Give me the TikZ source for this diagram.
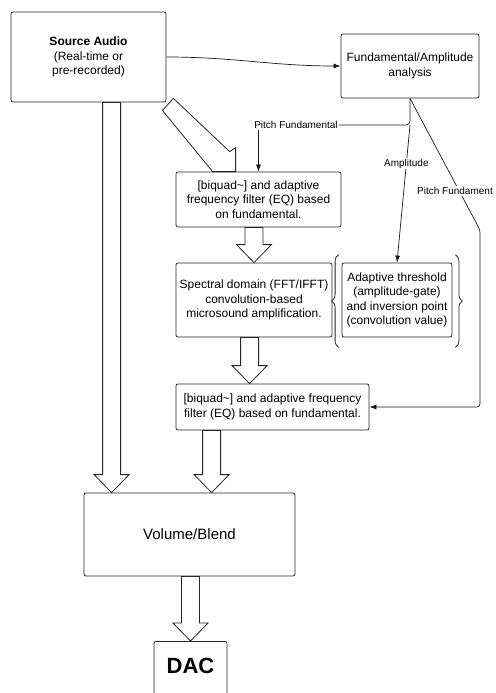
\documentclass[tikz,border=0pt]{standalone}
\usepackage{fontspec}
\setmainfont{Liberation Sans}
\usepackage{tikz}
\usetikzlibrary{arrows.meta,calc,decorations.pathreplacing}

\tikzset{
  box/.style={draw=black!85, line width=0.8pt, rounded corners=2pt, fill=white,
    align=center, inner sep=0pt, font=\fontsize{12}{14.5}\selectfont},
  fat/.style={draw=black!85, line width=0.8pt, fill=white},
  link/.style={draw=black!90, line width=0.7pt},
  linkarrow/.style={link, -{Latex[length=7pt,width=5pt]}},
  tag/.style={font=\fontsize{10}{12}\selectfont, fill=white, inner sep=1pt},
  brace/.style={draw=black!85, line width=0.8pt, decorate, decoration={brace,amplitude=7pt}},
}

% hollow block arrow pointing down: #1 = start of shaft, #2 = tip
\newcommand{\fatdown}[2]{%
  \draw[fat] let \p1=#1, \p2=#2 in
    (\x2-9pt,\y1) -- (\x2-9pt,\y2+18pt) -- (\x2-17.5pt,\y2+18pt) -- (\x2,\y2)
    -- (\x2+17.5pt,\y2+18pt) -- (\x2+9pt,\y2+18pt) -- (\x2+9pt,\y1) -- cycle;}

\begin{document}
\begin{tikzpicture}[x=1pt,y=-1pt]
  \useasboundingbox (0,0) rectangle (495,693);
  \clip (0,0) rectangle (495,693);

   \draw (88.5,57) node[box, minimum width=155pt, minimum height=90pt] (src) {\textbf{Source Audio}\\(Real-time or\\pre-recorded)};
   \draw (410,66) node[box, minimum width=138pt, minimum height=64pt] (fund) {Fundamental/Amplitude\\analysis};
  \draw (258.5,199.5) node[box, minimum width=165pt, minimum height=55pt] (bq1) {[biquad\textasciitilde] and adaptive\\frequency filter (EQ) based\\on fundamental.};
  \draw (254,300) node[box, minimum width=156pt, minimum height=74pt] (spec) {Spectral domain (FFT/IFFT)\\convolution-based\\microsound amplification.};
  \draw (397,300) node[box, minimum width=110pt, minimum height=74pt] (adapt) {Adaptive threshold\\(amplitude-gate)\\and inversion point\\(convolution value)};
      \draw (272.5,407) node[box, minimum width=193pt, minimum height=46pt] (bq2) {[biquad\textasciitilde] and adaptive frequency\\filter (EQ) based on fundamental.};
	\draw (189.5,534.5) node[box, minimum width=211pt, minimum height=83pt, font=\fontsize{15}{18}\selectfont] (vol) {Volume/Blend};
	    \draw (190.5,641) node[box, anchor=north, minimum width=73pt, minimum height=80pt, text height=17pt, text depth=33pt, font=\bfseries\fontsize{22}{26}\selectfont] (dac) {DAC};

  \draw (296,125) node[tag] (pitch) {Pitch Fundamental};
  \coordinate (fork) at (fund.south |- pitch.east);
  \coordinate (bend) at (480,230);

    \draw[linkarrow] (src.east) to[out=0,in=180] (fund.west);
    \draw[link,rounded corners=4pt] (fund.south) |- (pitch.east);
      \draw[linkarrow] (pitch.south -| bq1.north) -- (bq1.north);
      \draw[linkarrow] (fork) -- node[tag,pos=0.28] (amp) {Amplitude} (adapt.north);
       \draw[linkarrow,rounded corners=3pt] (fund.south) -- (bend) |- (bq2.east);
       \draw (455,191) node[tag, inner xsep=0.5pt] (pitch2) {Pitch Fundament};

   \draw[brace] ($(adapt.south west)+(-3,10)$) -- ($(adapt.north west)+(-3,-8)$);
   \draw[brace] ($(adapt.north east)+(3,-8)$) -- ($(adapt.south east)+(3,10)$);

  \draw[fat] ($(src.south east)+(-4,8)$) -- ($(src.south east)+(7,-4)$) -- ($(bq1.north west)+(54,-20)$)
     -- ($(bq1.north west)+(60,-24)$) -- ($(bq1.north west)+(60,0)$) -- ($(bq1.north west)+(37,0)$) -- cycle;
  \fatdown{(bq1.south)}{(spec.north)}
  \fatdown{(spec.south)}{($(bq2.north west)+(74,0)$)}
  \fatdown{(bq2.south)}{($(vol.north west)+(128,0)$)}
  \fatdown{(src.south)}{($(vol.north west)+(28,0)$)}
  \fatdown{(vol.south)}{(dac.north)}

\end{tikzpicture}
\end{document}
